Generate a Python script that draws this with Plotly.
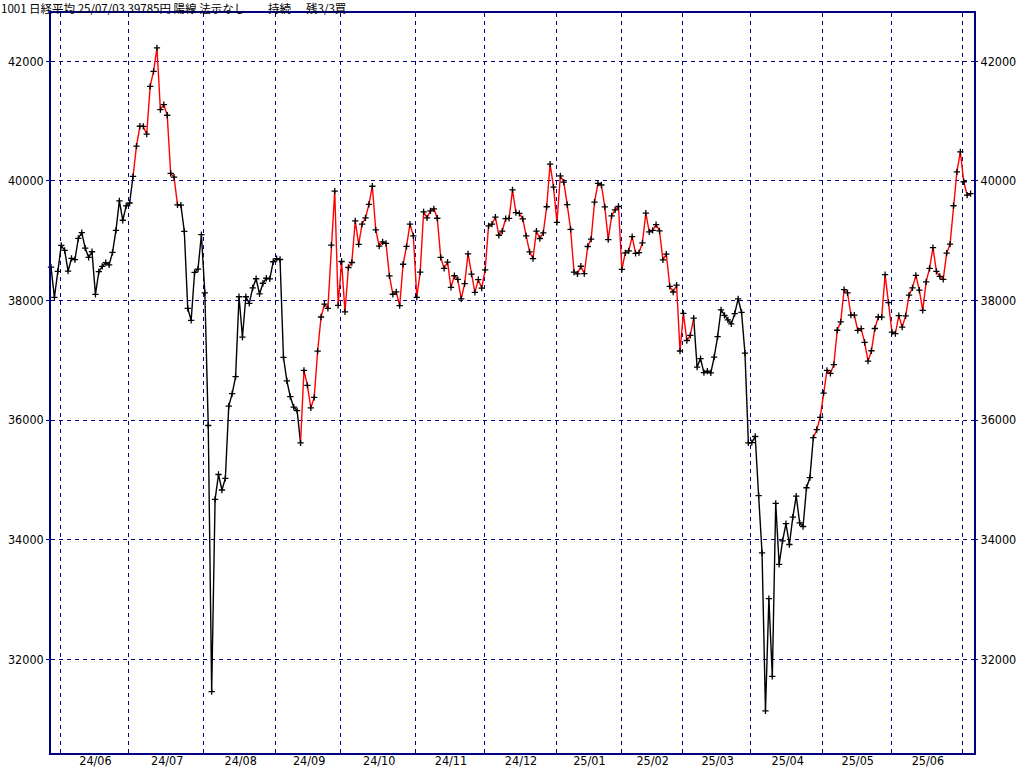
import plotly.graph_objects as go

dates = [
    "2024-05-29", "2024-05-30", "2024-05-31",
    "2024-06-03", "2024-06-04", "2024-06-05", "2024-06-06", "2024-06-07", "2024-06-10", "2024-06-11",
    "2024-06-12", "2024-06-13", "2024-06-14", "2024-06-17", "2024-06-18", "2024-06-19", "2024-06-20",
    "2024-06-21", "2024-06-24", "2024-06-25", "2024-06-26", "2024-06-27", "2024-06-28",
    "2024-07-01", "2024-07-02", "2024-07-03", "2024-07-04", "2024-07-05", "2024-07-08", "2024-07-09",
    "2024-07-10", "2024-07-11", "2024-07-12", "2024-07-16", "2024-07-17", "2024-07-18", "2024-07-19",
    "2024-07-22", "2024-07-23", "2024-07-24", "2024-07-25", "2024-07-26", "2024-07-29", "2024-07-30",
    "2024-07-31",
    "2024-08-01", "2024-08-02", "2024-08-05", "2024-08-06", "2024-08-07", "2024-08-08", "2024-08-09",
    "2024-08-13", "2024-08-14", "2024-08-15", "2024-08-16", "2024-08-19", "2024-08-20", "2024-08-21",
    "2024-08-22", "2024-08-23", "2024-08-26", "2024-08-27", "2024-08-28", "2024-08-29", "2024-08-30",
    "2024-09-02", "2024-09-03", "2024-09-04", "2024-09-05", "2024-09-06", "2024-09-09", "2024-09-10",
    "2024-09-11", "2024-09-12", "2024-09-13", "2024-09-17", "2024-09-18", "2024-09-19", "2024-09-20",
    "2024-09-24", "2024-09-25", "2024-09-26", "2024-09-27", "2024-09-30",
    "2024-10-01", "2024-10-02", "2024-10-03", "2024-10-04", "2024-10-07", "2024-10-08", "2024-10-09",
    "2024-10-10", "2024-10-11", "2024-10-15", "2024-10-16", "2024-10-17", "2024-10-18", "2024-10-21",
    "2024-10-22", "2024-10-23", "2024-10-24", "2024-10-25", "2024-10-28", "2024-10-29", "2024-10-30",
    "2024-10-31",
    "2024-11-01", "2024-11-05", "2024-11-06", "2024-11-07", "2024-11-08", "2024-11-11", "2024-11-12",
    "2024-11-13", "2024-11-14", "2024-11-15", "2024-11-18", "2024-11-19", "2024-11-20", "2024-11-21",
    "2024-11-22", "2024-11-25", "2024-11-26", "2024-11-27", "2024-11-28", "2024-11-29",
    "2024-12-02", "2024-12-03", "2024-12-04", "2024-12-05", "2024-12-06", "2024-12-09", "2024-12-10",
    "2024-12-11", "2024-12-12", "2024-12-13", "2024-12-16", "2024-12-17", "2024-12-18", "2024-12-19",
    "2024-12-20", "2024-12-23", "2024-12-24", "2024-12-25", "2024-12-26", "2024-12-27", "2024-12-30",
    "2025-01-06", "2025-01-07", "2025-01-08", "2025-01-09", "2025-01-10", "2025-01-14", "2025-01-15",
    "2025-01-16", "2025-01-17", "2025-01-20", "2025-01-21", "2025-01-22", "2025-01-23", "2025-01-24",
    "2025-01-27", "2025-01-28", "2025-01-29", "2025-01-30", "2025-01-31",
    "2025-02-03", "2025-02-04", "2025-02-05", "2025-02-06", "2025-02-07", "2025-02-10", "2025-02-12",
    "2025-02-13", "2025-02-14", "2025-02-17", "2025-02-18", "2025-02-19", "2025-02-20", "2025-02-21",
    "2025-02-25", "2025-02-26", "2025-02-27", "2025-02-28",
    "2025-03-03", "2025-03-04", "2025-03-05", "2025-03-06", "2025-03-07", "2025-03-10", "2025-03-11",
    "2025-03-12", "2025-03-13", "2025-03-14", "2025-03-17", "2025-03-18", "2025-03-19", "2025-03-21",
    "2025-03-24", "2025-03-25", "2025-03-26", "2025-03-27", "2025-03-28", "2025-03-31",
    "2025-04-01", "2025-04-02", "2025-04-03", "2025-04-04", "2025-04-07", "2025-04-08", "2025-04-09",
    "2025-04-10", "2025-04-11", "2025-04-14", "2025-04-15", "2025-04-16", "2025-04-17", "2025-04-18",
    "2025-04-21", "2025-04-22", "2025-04-23", "2025-04-24", "2025-04-25", "2025-04-28", "2025-04-30",
    "2025-05-01", "2025-05-02", "2025-05-07", "2025-05-08", "2025-05-09", "2025-05-12", "2025-05-13",
    "2025-05-14", "2025-05-15", "2025-05-16", "2025-05-19", "2025-05-20", "2025-05-21", "2025-05-22",
    "2025-05-23", "2025-05-26", "2025-05-27", "2025-05-28", "2025-05-29", "2025-05-30",
    "2025-06-02", "2025-06-03", "2025-06-04", "2025-06-05", "2025-06-06", "2025-06-09", "2025-06-10",
    "2025-06-11", "2025-06-12", "2025-06-13", "2025-06-16", "2025-06-17", "2025-06-18", "2025-06-19",
    "2025-06-20", "2025-06-23", "2025-06-24", "2025-06-25", "2025-06-26", "2025-06-27", "2025-06-30",
    "2025-07-01", "2025-07-02", "2025-07-03",
]

closes = [
    38557, 38054, 38488,
    38923, 38837, 38490, 38704, 38684, 39038, 39135, 38877, 38720, 38815, 38102, 38482, 38571, 38633,
    38596, 38805, 39173, 39667, 39342, 39583,
    39631, 40075, 40581, 40914, 40912, 40781, 41580, 41832, 42224, 41191, 41275, 41098, 40126, 40064,
    39599, 39594, 39155, 37870, 37667, 38469, 38526, 39102,
    38126, 35910, 31458, 34675, 35090, 34831, 35025, 36233, 36442, 36727, 38063, 37389, 38063, 37952,
    38211, 38364, 38110, 38289, 38372, 38363, 38648,
    38701, 38686, 37048, 36657, 36391, 36216, 36159, 35620, 36833, 36582, 36203, 36380, 37155, 37724,
    37941, 37870, 38926, 39830, 37920,
    38652, 37809, 38552, 38636, 39333, 38938, 39278, 39381, 39606, 39911, 39180, 38911, 38982, 38955,
    38412, 38105, 38143, 37914, 38606, 38904, 39277, 39081,
    38054, 38475, 39481, 39381, 39500, 39533, 39376, 38722, 38536, 38643, 38221, 38414, 38352, 38026,
    38284, 38780, 38442, 38135, 38349, 38208,
    38513, 39249, 39276, 39396, 39091, 39161, 39368, 39372, 39849, 39470, 39457, 39365, 39082, 38814,
    38702, 39161, 39037, 39130, 39568, 40281, 39895,
    39307, 40083, 39981, 39605, 39190, 38474, 38445, 38573, 38451, 38903, 39028, 39646, 39959, 39932,
    39566, 39017, 39415, 39514, 39572,
    38520, 38798, 38831, 39067, 38787, 38801, 38964, 39461, 39149, 39174, 39270, 39165, 38678, 38777,
    38238, 38142, 38256, 37156,
    37785, 37331, 37418, 37705, 36887, 37028, 36793, 36819, 36790, 37053, 37397, 37845, 37752, 37677,
    37608, 37781, 38027, 37800, 37120, 35618,
    35624, 35726, 34736, 33781, 31137, 33013, 31714, 34609, 33586, 33982, 34268, 33920, 34378, 34730,
    34280, 34221, 34869, 35039, 35706, 35840, 36045,
    36452, 36831, 36780, 36929, 37503, 37644, 38183, 38128, 37756, 37754, 37499, 37529, 37299, 36986,
    37160, 37532, 37724, 37722, 38433, 37965,
    37471, 37447, 37747, 37554, 37742, 38089, 38212, 38421, 38173, 37834, 38311, 38537, 38885, 38488,
    38403, 38354, 38791, 38942, 39585, 40151, 40487,
    39986, 39762, 39786,
]

# spans (first date, last date) where the line is drawn red
red_spans = [
    ("2024-07-02", "2024-07-22"),
    ("2024-09-11", "2025-03-06"),
    ("2025-04-25", "2025-07-03"),
]

y_ticks = [32000, 34000, 36000, 38000, 40000, 42000]
y_range = [30433, 42808]

title_main = "1001 日経平均 25/07/03 39785円 陽線 法示なし"
title_state = "持続"
title_rest = "残3/3買"

NAVY = "#000080"
L, R, T, B = 51, 50, 13, 14
W, H = 1024, 767
PW, PH = W - L - R, H - T - B

n = len(dates)
idx = list(range(n))
pos = {d: i for i, d in enumerate(dates)}

red = [False] * (n - 1)
for a, b in red_spans:
    for i in range(pos[a], pos[b]):
        red[i] = True


def seg_trace(flag, color):
    xs, ys = [], []
    i = 0
    while i < n - 1:
        if red[i] == flag:
            j = i
            while j < n - 1 and red[j] == flag:
                j += 1
            xs += idx[i:j + 1] + [None]
            ys += closes[i:j + 1] + [None]
            i = j
        else:
            i += 1
    return go.Scatter(x=xs, y=ys, mode="lines", line=dict(color=color, width=1.4),
                      hoverinfo="skip", showlegend=False, connectgaps=False, cliponaxis=False)


# month starts
month_starts = [i for i in range(1, n) if dates[i][:7] != dates[i - 1][:7]]
grid_vals = [s - 0.25 for s in month_starts]
label_vals, label_text = [], []
for k in range(len(month_starts) - 1):
    s, e = month_starts[k], month_starts[k + 1]
    label_vals.append((s + e) / 2)
    d = dates[s]
    label_text.append(d[2:4] + "/" + d[5:7])

fig = go.Figure()
fig.add_trace(seg_trace(False, "#000000"))
fig.add_trace(seg_trace(True, "#ff0000"))
fig.add_trace(go.Scatter(x=idx, y=closes, mode="markers",
                         marker=dict(symbol="cross-thin", size=4.5, color="#000000",
                                     line=dict(color="#000000", width=1.3)),
                         hoverinfo="skip", showlegend=False, cliponaxis=False))
# helper trace so the overlay axes (labels, right y axis) are drawn
fig.add_trace(go.Scatter(x=[idx[0], idx[-1]], y=[closes[0], closes[-1]], mode="markers",
                         marker=dict(opacity=0), xaxis="x2", yaxis="y2",
                         hoverinfo="skip", showlegend=False))

tick_font = dict(family="Liberation Sans Narrow, Arial Narrow, DejaVu Sans Condensed, sans-serif",
                 size=12.5, color="#000000")

fig.update_layout(
    width=W, height=H,
    margin=dict(l=L, r=R, t=T, b=B, pad=0, autoexpand=False),
    paper_bgcolor="#ffffff", plot_bgcolor="#ffffff",
    showlegend=False,
    xaxis=dict(range=[0, 270.0], tickmode="array", tickvals=grid_vals, showticklabels=False,
               showgrid=True, gridcolor=NAVY, gridwidth=1, griddash="4px,4px", ticks="",
               showline=True, linecolor=NAVY, linewidth=1.5, mirror=True, zeroline=False,
               automargin=False),
    xaxis2=dict(range=[0, 270.0], overlaying="x", anchor="y", side="bottom",
                tickmode="array", tickvals=label_vals, ticktext=label_text,
                showgrid=False, ticks="", showline=False, zeroline=False,
                tickfont=tick_font, ticklabelstandoff=-2, automargin=False),
    yaxis=dict(range=y_range, tickmode="array", tickvals=y_ticks,
               ticktext=[str(v) for v in y_ticks],
               showgrid=True, gridcolor=NAVY, gridwidth=1, griddash="4px,4px",
               ticks="outside", ticklen=3, tickcolor=NAVY,
               showline=True, linecolor=NAVY, linewidth=1.5, mirror=True, zeroline=False,
               tickfont=tick_font, automargin=False),
    yaxis2=dict(range=y_range, overlaying="y", side="right", anchor="x",
                tickmode="array", tickvals=y_ticks, ticktext=[str(v) for v in y_ticks],
                showgrid=False, ticks="outside", ticklen=3, tickcolor=NAVY,
                showline=False, zeroline=False, tickfont=tick_font, automargin=False),
)


def px_x(px):
    return (px - L) / PW


def px_y(py):
    return 1 + (T - py) / PH


title_font = dict(family="Noto Sans CJK JP, sans-serif", size=11.5, color="#000000")
for txt, px in [(title_main, 0), (title_state, 267), (title_rest, 305)]:
    fig.add_annotation(text=txt, xref="paper", yref="paper", x=px_x(px), y=px_y(-1.5),
                       xanchor="left", yanchor="top", showarrow=False, font=title_font,
                       borderpad=0)

fig.write_html("out.html", config={"displayModeBar": False},
               post_script="document.body.style.margin='0';document.body.style.overflow='hidden';")
